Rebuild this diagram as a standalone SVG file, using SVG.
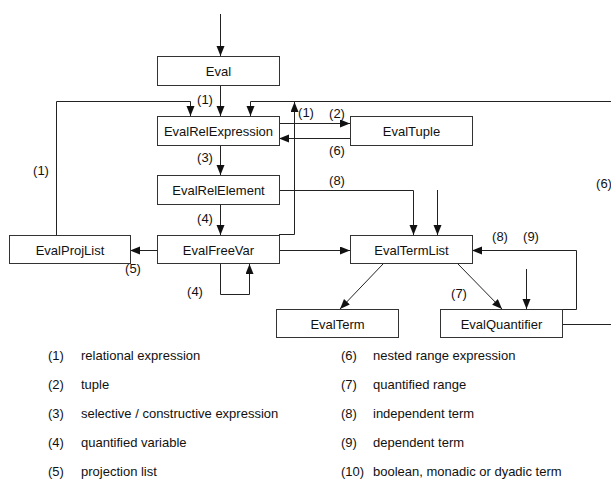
<svg xmlns="http://www.w3.org/2000/svg" width="611" height="486" viewBox="0 0 611 486">
  <style>
    .box rect { fill: #ffffff; stroke: #333333; stroke-width: 1; }
    .box text { font-family: "Liberation Sans", Arial, sans-serif; font-size: 13px; fill: #111111; text-anchor: middle; dominant-baseline: central; }
    .edges path { fill: none; stroke: #222222; stroke-width: 1; }
    .edges .arr { marker-end: url(#head); }
    .lbl { font-family: "Liberation Sans", Arial, sans-serif; font-size: 13px; fill: #111111; text-anchor: middle; }
    .legend text { font-family: "Liberation Sans", Arial, sans-serif; font-size: 13px; fill: #111111; }
  </style>
  <defs>
    <marker id="head" markerUnits="userSpaceOnUse" markerWidth="11" markerHeight="9" refX="10" refY="4" orient="auto">
      <path d="M0,0 L10,4 L0,8 Z" fill="#111111"/>
    </marker>
  </defs>
  <rect width="611" height="486" fill="#ffffff"/>

  <!-- connectors -->
  <g class="edges">
    <path class="arr" d="M220.5,14 V56"/>
    <path class="arr" d="M220.5,85 V116"/>
    <path class="arr" d="M56.5,235 V101.5 H190.5 V116"/>
    <path class="arr" d="M562,324.5 H612 V101.5 H250.5 V116"/>
    <path class="arr" d="M279,234.5 H294.5 V102"/>
    <path class="arr" d="M279,123.5 H350"/>
    <path class="arr" d="M350,138.5 H279"/>
    <path class="arr" d="M220.5,146 V175"/>
    <path class="arr" d="M220.5,204 V235"/>
    <path class="arr" d="M279,190.5 H413.5 V235"/>
    <path class="arr" d="M437.5,190 V235"/>
    <path class="arr" d="M157,250.5 H130"/>
    <path class="arr" d="M279,250.5 H350"/>
    <path class="arr" d="M220.5,264 V294.5 H249.5 V264"/>
    <path class="arr" d="M383,264 L340,309"/>
    <path class="arr" d="M458,264 L502,309"/>
    <path class="arr" d="M562,309.5 H576.5 V250.5 H472"/>
    <path class="arr" d="M526.5,269 V309"/>
  </g>

  <!-- connector labels -->
  <g id="edge-labels">
    <text class="lbl" x="205" y="104">(1)</text>
    <text class="lbl" x="306" y="117">(1)</text>
    <text class="lbl" x="337" y="118">(2)</text>
    <text class="lbl" x="337" y="155">(6)</text>
    <text class="lbl" x="205" y="162">(3)</text>
    <text class="lbl" x="337" y="185">(8)</text>
    <text class="lbl" x="41" y="175">(1)</text>
    <text class="lbl" x="205" y="223">(4)</text>
    <text class="lbl" x="133" y="273">(5)</text>
    <text class="lbl" x="195" y="296">(4)</text>
    <text class="lbl" x="500" y="241">(8)</text>
    <text class="lbl" x="531" y="241">(9)</text>
    <text class="lbl" x="459" y="298">(7)</text>
    <text class="lbl" x="604" y="188">(6)</text>
  </g>

  <!-- nodes -->
  <g id="eval" class="box"><rect x="157.5" y="56.5" width="122" height="29"/><text x="218.5" y="71">Eval</text></g>
  <g id="evalRelExpression" class="box"><rect x="157.5" y="116.5" width="122" height="29"/><text x="218.5" y="131">EvalRelExpression</text></g>
  <g id="evalTuple" class="box"><rect x="350.5" y="116.5" width="122" height="29"/><text x="411.5" y="131">EvalTuple</text></g>
  <g id="evalRelElement" class="box"><rect x="157.5" y="175.5" width="122" height="29"/><text x="218.5" y="190">EvalRelElement</text></g>
  <g id="evalProjList" class="box"><rect x="9.5" y="235.5" width="121" height="28"/><text x="70" y="250">EvalProjList</text></g>
  <g id="evalFreeVar" class="box"><rect x="157.5" y="235.5" width="122" height="28"/><text x="218.5" y="250">EvalFreeVar</text></g>
  <g id="evalTermList" class="box"><rect x="350.5" y="235.5" width="122" height="28"/><text x="411.5" y="250">EvalTermList</text></g>
  <g id="evalTerm" class="box"><rect x="276.5" y="309.5" width="122" height="28"/><text x="337.5" y="324">EvalTerm</text></g>
  <g id="evalQuantifier" class="box"><rect x="440.5" y="309.5" width="122" height="28"/><text x="501.5" y="324">EvalQuantifier</text></g>

  <!-- legend -->
  <g class="legend">
    <text x="48" y="360">(1)</text><text x="81" y="360">relational expression</text>
    <text x="48" y="389">(2)</text><text x="81" y="389">tuple</text>
    <text x="48" y="418">(3)</text><text x="81" y="418">selective / constructive expression</text>
    <text x="48" y="447">(4)</text><text x="81" y="447">quantified variable</text>
    <text x="48" y="476">(5)</text><text x="81" y="476">projection list</text>
    <text x="341" y="360">(6)</text><text x="373" y="360">nested range expression</text>
    <text x="341" y="389">(7)</text><text x="373" y="389">quantified range</text>
    <text x="341" y="418">(8)</text><text x="373" y="418">independent term</text>
    <text x="341" y="447">(9)</text><text x="373" y="447">dependent term</text>
    <text x="341" y="476">(10)</text><text x="373" y="476">boolean, monadic or dyadic term</text>
  </g>
</svg>
